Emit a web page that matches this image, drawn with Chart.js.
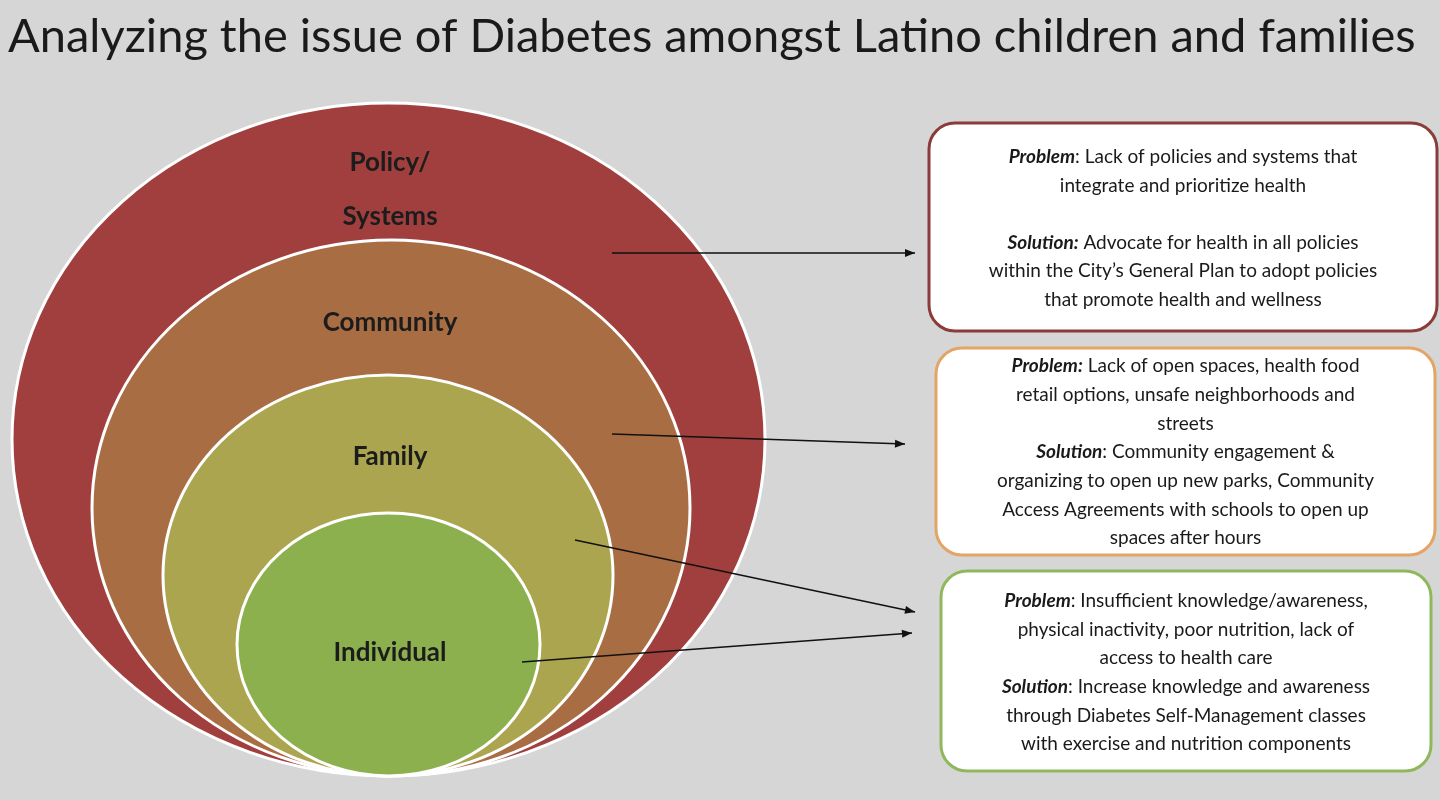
<!DOCTYPE html>
<html><head><meta charset="utf-8">
<script src="https://cdn.jsdelivr.net/npm/chart.js@4"></script>
<style>html,body{margin:0;padding:0;background:#d6d6d6;}#wrap{width:1440px;height:800px;position:relative;}</style>
</head><body><div id="wrap"><canvas id="c"></canvas></div>
<script>
const title = "Analyzing the issue of Diabetes amongst Latino children and families";
const layers = ["Policy/\nSystems", "Community", "Family", "Individual"];
const layerColors = ["#a13f3f", "#a86d43", "#aca54f", "#8db04f"];
const boxBorders = ["#8c3b3b", "#e3a466", "#8fb85c"];
const boxTexts = [
  [["Problem",": Lack of policies and systems that"],["","integrate and prioritize health"],["",""],["Solution:"," Advocate for health in all policies"],["","within the City\u2019s General Plan to adopt policies"],["","that promote health and wellness"]],
  [["Problem:"," Lack of open spaces, health food"],["","retail options, unsafe neighborhoods and"],["","streets"],["Solution",": Community engagement &"],["","organizing to open up new parks, Community"],["","Access Agreements with schools to open up"],["","spaces after hours"]],
  [["Problem",": Insufficient knowledge/awareness,"],["","physical inactivity, poor nutrition, lack of"],["","access to health care"],["Solution",": Increase knowledge and awareness"],["","through Diabetes Self-Management classes"],["","with exercise and nutrition components"]]
];
// geometry (diagram units = page pixels)
const ellGeom = [[12,765,103,776],[92,690,240,776],[163,613,375,776],[237,540,513,776]];
const labelY = [[163,217],[323],[457],[653]];
const boxGeom = [[929,1437,123,331],[936,1435,348,555],[941,1431,571,771]];
const lineY = [[157,186,null,243,271,300],[366,395,424,452,481,510,538],[601,630,658,687,716,744]];
const arrows = [[612,253,915,253],[612,434,905,444],[575,540,915,612],[522,662,912,633]];

const diagram = {
  id:'diagram',
  afterDraw(chart){
    const ctx = chart.ctx, X = chart.scales.x, Y = chart.scales.y;
    const px = v=>X.getPixelForValue(v), py = v=>Y.getPixelForValue(v);
    ctx.save();
    ctx.fillStyle="#1a1a1a"; ctx.font="40px Lato"; ctx.textBaseline="middle";
    let w = ctx.measureText(title).width; let fs = 40*1407/w;
    ctx.font=fs.toFixed(1)+"px Lato"; ctx.textAlign="left";
    ctx.fillText(title, px(8), py(37));
    layers.forEach((name,i)=>{
      const [l,r,t,b]=ellGeom[i];
      ctx.beginPath();
      ctx.ellipse((px(l)+px(r))/2,(py(t)+py(b))/2,(px(r)-px(l))/2,(py(b)-py(t))/2,0,0,Math.PI*2);
      ctx.fillStyle=layerColors[i]; ctx.fill();
      ctx.lineWidth=3; ctx.strokeStyle="#ffffff"; ctx.stroke();
    });
    ctx.fillStyle="#1c1c1c"; ctx.font="bold 26px Lato"; ctx.textAlign="center";
    layers.forEach((name,i)=>{
      name.split("\n").forEach((s,j)=>ctx.fillText(s, px(390), py(labelY[i][j])));
    });
    boxTexts.forEach((lines,i)=>{
      const [l,r,t,b]=boxGeom[i];
      ctx.beginPath(); ctx.roundRect(px(l),py(t),px(r)-px(l),py(b)-py(t),26);
      ctx.fillStyle="#ffffff"; ctx.fill(); ctx.lineWidth=3; ctx.strokeStyle=boxBorders[i]; ctx.stroke();
      const cx=(px(l)+px(r))/2;
      lines.forEach((ln,j)=>{
        const y=lineY[i][j]; if(y==null) return;
        ctx.font="italic bold 19px Lato"; const w1=ctx.measureText(ln[0]).width;
        ctx.font="19px Lato"; const w2=ctx.measureText(ln[1]).width;
        let x=cx-(w1+w2)/2; ctx.textAlign="left"; ctx.fillStyle="#1a1a1a";
        ctx.font="italic bold 19px Lato"; ctx.fillText(ln[0],x,py(y));
        ctx.font="19px Lato"; ctx.fillText(ln[1],x+w1,py(y));
      });
    });
    ctx.strokeStyle="#111"; ctx.fillStyle="#111"; ctx.lineWidth=1.6;
    arrows.forEach(([x1,y1,x2,y2])=>{
      const a=px(x1),b=py(y1),c=px(x2),d=py(y2);
      ctx.beginPath(); ctx.moveTo(a,b); ctx.lineTo(c,d); ctx.stroke();
      const ang=Math.atan2(d-b,c-a);
      ctx.beginPath(); ctx.moveTo(c,d);
      ctx.lineTo(c-10*Math.cos(ang)+4*Math.sin(ang), d-10*Math.sin(ang)-4*Math.cos(ang));
      ctx.lineTo(c-10*Math.cos(ang)-4*Math.sin(ang), d-10*Math.sin(ang)+4*Math.cos(ang));
      ctx.closePath(); ctx.fill();
    });
    ctx.restore();
  }
};
new Chart(document.getElementById('c'),{
  type:'scatter',
  data:{datasets:[{data:[]}]},
  options:{responsive:true,maintainAspectRatio:false,animation:false,
    layout:{padding:0},
    plugins:{legend:{display:false},tooltip:{enabled:false}},
    scales:{x:{type:'linear',min:0,max:1440,display:false},y:{type:'linear',min:0,max:800,reverse:true,display:false}}},
  plugins:[diagram]
});
</script></body></html>
